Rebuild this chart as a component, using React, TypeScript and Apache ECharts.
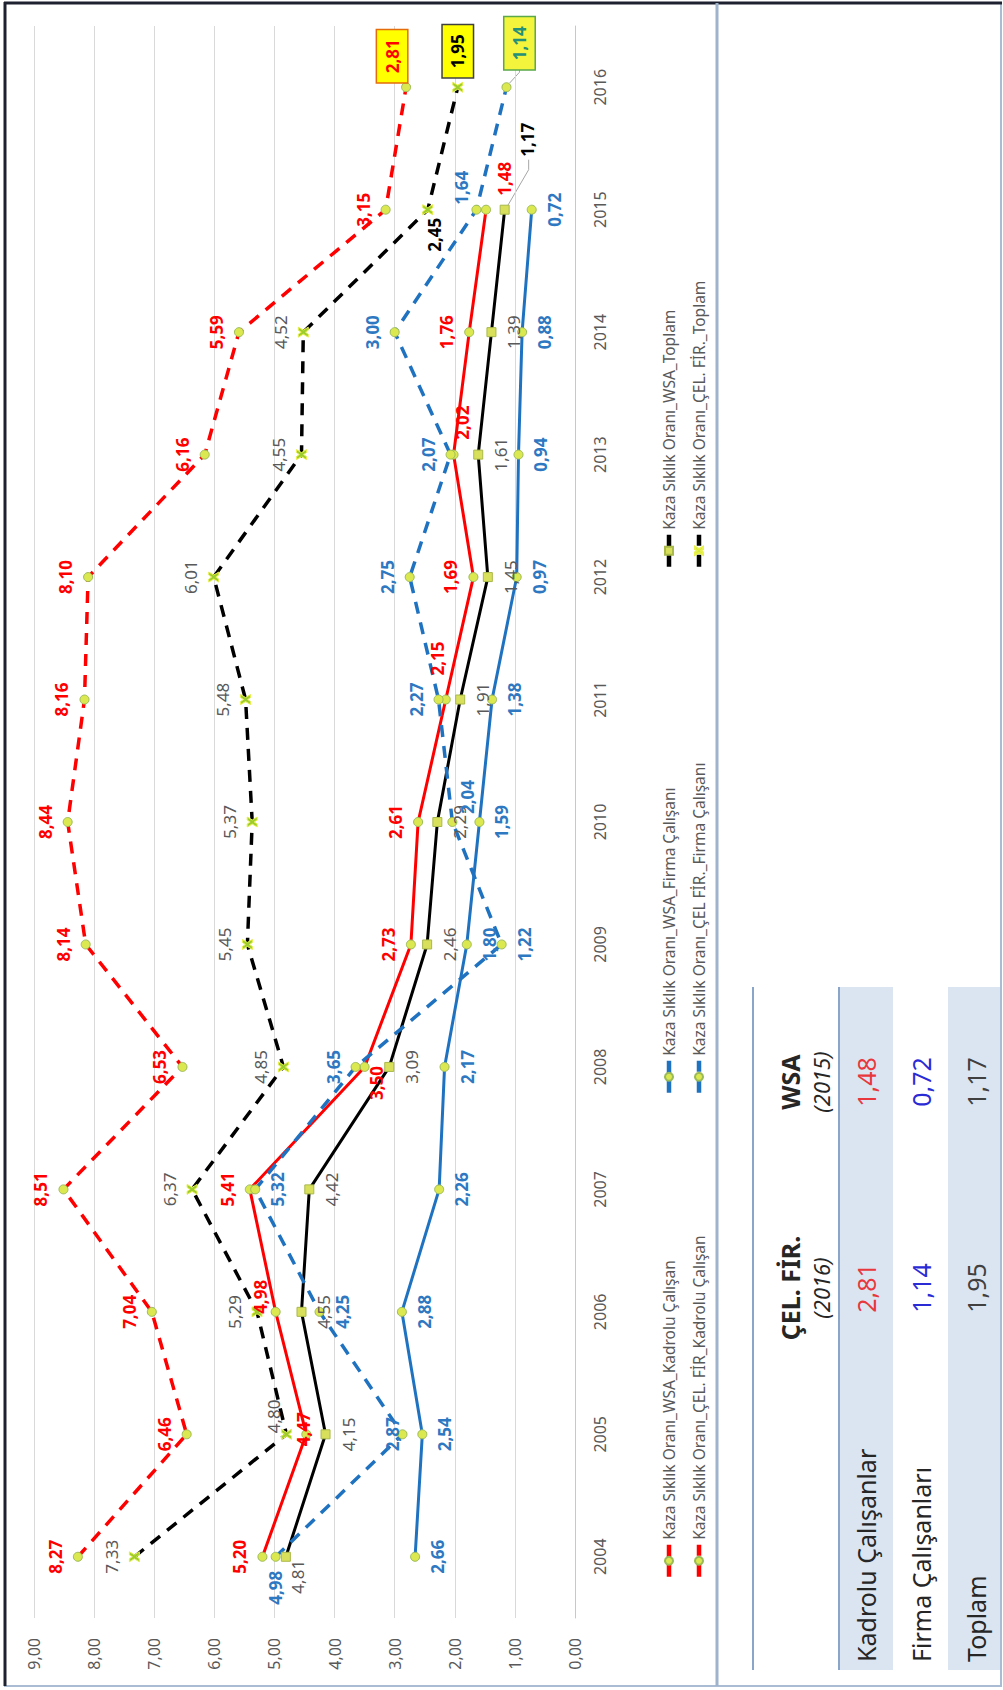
import React, { useEffect, useRef } from "react";
import * as echarts from "echarts";

// ---------- data ----------
const years = ["2004", "2005", "2006", "2007", "2008", "2009", "2010", "2011", "2012", "2013", "2014", "2015", "2016"];

const wsaKadrolu = [5.2, 4.47, 4.98, 5.41, 3.5, 2.73, 2.61, 2.15, 1.69, 2.02, 1.76, 1.48, null];
const wsaFirma = [2.66, 2.54, 2.88, 2.26, 2.17, 1.8, 1.59, 1.38, 0.97, 0.94, 0.88, 0.72, null];
const wsaToplam = [4.81, 4.15, 4.55, 4.42, 3.09, 2.46, 2.29, 1.91, 1.45, 1.61, 1.39, 1.17, null];
const celKadrolu = [8.27, 6.46, 7.04, 8.51, 6.53, 8.14, 8.44, 8.16, 8.1, 6.16, 5.59, 3.15, 2.81];
const celFirma = [4.98, 2.87, 4.25, 5.32, 3.65, 1.22, 2.04, 2.27, 2.75, 2.07, 3.0, 1.64, 1.14];
const celToplam = [7.33, 4.8, 5.29, 6.37, 4.85, 5.45, 5.37, 5.48, 6.01, 4.55, 4.52, 2.45, 1.95];

const seriesNames = [
  "Kaza Sıklık Oranı_WSA_Kadrolu Çalışan",
  "Kaza Sıklık Oranı_WSA_Firma Çalışanı",
  "Kaza Sıklık Oranı_WSA_Toplam",
  "Kaza Sıklık Oranı_ÇEL. FİR_Kadrolu Çalışan",
  "Kaza Sıklık Oranı_ÇEL FİR._Firma Çalışanı",
  "Kaza Sıklık Oranı_ÇEL. FİR._Toplam",
];

const valueTicks = [0, 1, 2, 3, 4, 5, 6, 7, 8, 9];

const tableRowLabels = ["Kadrolu Çalışanlar", "Firma Çalışanları", "Toplam"];
const tableHeaders = ["ÇEL. FİR.", "WSA"];
const tableHeaderYears = ["(2016)", "(2015)"];
const tableCel2016 = [2.81, 1.14, 1.95];
const tableWsa2015 = [1.48, 0.72, 1.17];

// ---------- styles ----------
const FONT = "'Noto Sans', 'DejaVu Sans', sans-serif";
const RED = "#ff0000";
const BLUE = "#1f72c0";
const BLACK = "#000000";
const GRAY = "#595959";
const LBL_BLUE = "#2e78c2";

const fmt = (v: any) => (v == null || v === "-" ? "" : Number(v).toFixed(2).replace(".", ","));

const circleMarker = { symbol: "circle", symbolSize: 9, itemStyle: { color: "#dbe84f", borderColor: "#9bbb59", borderWidth: 1 } };
const rectMarker = { symbol: "rect", symbolSize: 9, itemStyle: { color: "#d8df5a", borderColor: "#a9b94a", borderWidth: 1 } };
const xMarker = {
  symbol: "path://M0 0H3L5 3L7 0H10L7 5L10 10H7L5 7L3 10H0L3 5Z",
  symbolSize: 10,
  itemStyle: { color: "#9ccc2e", borderColor: "#e8f04a", borderWidth: 1 },
};

const inside = (dx: number, dy: number, extra: any = {}) => ({ position: "inside", offset: [dx, dy], ...extra });
const boxLabel = (dx: number, dy: number, bg: string, border: string, color: string) => ({
  position: "inside",
  offset: [dx, dy],
  backgroundColor: bg,
  borderColor: border,
  borderWidth: 1.5,
  padding: [7, 9, 6, 9],
  color,
  fontWeight: "bold",
});

const overrides: Record<string, Record<number, any>> = {
  wsaKadrolu: {
    1: inside(5, -3),
    2: inside(15, -15),
    4: inside(-16, 12),
    7: inside(41, -8),
    9: inside(32, 9),
    11: inside(31, 18),
  },
  wsaFirma: {},
  wsaToplam: {
    0: inside(-20, 12),
    11: inside(70, 23, { color: BLACK, fontWeight: "bold" }),
  },
  celKadrolu: {
    12: boxLabel(31, -14, "#ffff00", "#e46c0a", RED),
  },
  celFirma: {
    0: inside(-31, 0),
    1: inside(0, -10),
    2: { position: "bottom" },
    3: { position: "bottom" },
    5: { position: "bottom" },
    6: inside(25, 15),
    11: inside(22, -15),
    12: boxLabel(44, 13, "#f4f43c", "#5aa84a", "#23907a"),
  },
  celToplam: {
    1: inside(18, -13),
    11: inside(-25, 7, { color: BLACK, fontWeight: "bold" }),
    12: boxLabel(36, 0, "#ffff00", "#404040", BLACK),
  },
};

const buildData = (vals: (number | null)[], ov: Record<number, any>) =>
  vals.map((v, i) => (ov[i] && v != null ? { value: v, label: ov[i] } : v));

function makeSeries(
  name: string,
  vals: (number | null)[],
  ov: Record<number, any>,
  color: string,
  dashed: boolean,
  marker: any,
  labelPos: string,
  labelColor: string,
  labelBold: boolean
) {
  return {
    name,
    type: "line",
    data: buildData(vals, ov),
    ...marker,
    showSymbol: true,
    lineStyle: { color, width: dashed ? 3.5 : 3, type: dashed ? [12, 9] : "solid" },
    label: {
      show: true,
      position: labelPos,
      distance: 9,
      color: labelColor,
      fontWeight: labelBold ? "bold" : "normal",
      fontSize: 17,
      fontFamily: FONT,
      formatter: (p: any) => fmt(p.value),
    },
    emphasis: { disabled: true },
  };
}

// layout of the (unrotated) drawing surface: 1690 x 1003
const W = 1690;
const H = 1003;

const legendLeft = [106, 590, 1116];
const legendTop = [656, 686];

export default function App() {
  const ref = useRef<HTMLDivElement>(null);

  useEffect(() => {
    if (!ref.current) return;
    const chart = echarts.init(ref.current, undefined, { renderer: "svg" });

    const series = [
      makeSeries(seriesNames[0], wsaKadrolu, overrides.wsaKadrolu, RED, false, circleMarker, "top", RED, true),
      makeSeries(seriesNames[1], wsaFirma, overrides.wsaFirma, BLUE, false, circleMarker, "bottom", LBL_BLUE, true),
      makeSeries(seriesNames[2], wsaToplam, overrides.wsaToplam, BLACK, false, rectMarker, "bottom", GRAY, false),
      makeSeries(seriesNames[3], celKadrolu, overrides.celKadrolu, RED, true, circleMarker, "top", RED, true),
      makeSeries(seriesNames[4], celFirma, overrides.celFirma, BLUE, true, circleMarker, "top", LBL_BLUE, true),
      makeSeries(seriesNames[5], celToplam, overrides.celToplam, BLACK, true, xMarker, "top", GRAY, false),
    ];

    const legends = seriesNames.map((n, i) => ({
      data: [n],
      left: legendLeft[i % 3],
      top: legendTop[Math.floor(i / 3)],
      itemWidth: 32,
      itemHeight: 10,
      itemGap: 5,
      selectedMode: false,
      lineStyle: { width: 4.5 },
      textStyle: { color: GRAY, fontSize: 15.5, fontFamily: FONT },
    }));

    const txt = (id: string, x: number, y: number, text: string, extra: any) => ({
      type: "text",
      id,
      x,
      y,
      silent: true,
      style: { text, fontFamily: FONT, fill: "#262626", fontSize: 24, align: "center", verticalAlign: "middle", ...extra },
    });

    const rowY = [866, 921, 976];
    const colX = [402, 608];

    const baseGraphics: any[] = [
      // frame
      { type: "rect", id: "frame", shape: { x: 4, y: 5, width: 1683, height: 996 }, style: { fill: "none", stroke: "#a9bcd4", lineWidth: 2 }, silent: true },
      { type: "line", id: "frameDark1", shape: { x1: 4, y1: 5, x2: 1688, y2: 5 }, style: { stroke: "#1e2130", lineWidth: 3 }, silent: true },
      { type: "line", id: "frameDark2", shape: { x1: 1687, y1: 4, x2: 1687, y2: 1002 }, style: { stroke: "#1e2130", lineWidth: 3 }, silent: true },
      { type: "line", id: "separator", shape: { x1: 4, y1: 717, x2: 1687, y2: 717 }, style: { stroke: "#9fb3cd", lineWidth: 3 }, silent: true },
      // table
      { type: "rect", id: "band1", shape: { x: 20, y: 839, width: 683, height: 54 }, style: { fill: "#dbe5f1" }, silent: true },
      { type: "rect", id: "band3", shape: { x: 20, y: 948, width: 683, height: 52 }, style: { fill: "#dbe5f1" }, silent: true },
      { type: "line", id: "rule1", shape: { x1: 20, y1: 753, x2: 703, y2: 753 }, style: { stroke: "#8ba5c8", lineWidth: 2 }, silent: true },
      { type: "line", id: "rule2", shape: { x1: 20, y1: 839, x2: 703, y2: 839 }, style: { stroke: "#8ba5c8", lineWidth: 2 }, silent: true },
      txt("h1", colX[0], 790, tableHeaders[0], { fontWeight: "bold", fontSize: 25 }),
      txt("h2", colX[1], 790, tableHeaders[1], { fontWeight: "bold", fontSize: 25 }),
      txt("hy1", colX[0], 821, tableHeaderYears[0], { fontStyle: "italic", fontSize: 22 }),
      txt("hy2", colX[1], 821, tableHeaderYears[1], { fontStyle: "italic", fontSize: 22 }),
      ...tableRowLabels.map((t, i) => txt("rl" + i, 28, rowY[i], t, { align: "left", fontSize: 25 })),
      ...tableCel2016.map((v, i) => txt("c1" + i, colX[0], rowY[i], fmt(v), { fontSize: 25, fill: i === 0 ? "#e8383d" : i === 1 ? "#2b2bd6" : "#404040" })),
      ...tableWsa2015.map((v, i) => txt("c2" + i, colX[1], rowY[i], fmt(v), { fontSize: 25, fill: i === 0 ? "#e8383d" : i === 1 ? "#2b2bd6" : "#404040" })),
    ];

    chart.setOption({
      animation: false,
      backgroundColor: "#ffffff",
      textStyle: { fontFamily: FONT },
      grid: { left: 72, top: 34, width: 1592, height: 541, containLabel: false },
      xAxis: {
        type: "category",
        data: years,
        boundaryGap: true,
        axisLine: { show: true, lineStyle: { color: "#c8c8c8", width: 1 } },
        axisTick: { show: false },
        axisLabel: { interval: 0, margin: 17, fontSize: 16, color: GRAY, fontFamily: FONT },
        splitLine: { show: false },
      },
      yAxis: {
        type: "value",
        min: valueTicks[0],
        max: valueTicks[valueTicks.length - 1],
        interval: 1,
        axisLine: { show: false },
        axisTick: { show: false },
        axisLabel: { margin: 20, fontSize: 16, color: GRAY, fontFamily: FONT, formatter: (v: number) => fmt(v) },
        splitLine: { lineStyle: { color: "#d9d9d9", width: 1 } },
      },
      legend: legends,
      tooltip: { show: false },
      series,
      graphic: { elements: baseGraphics },
    });

    // leader lines for displaced labels, anchored through the chart's own scales
    const a = chart.convertToPixel({ gridIndex: 0 } as any, [11, wsaToplam[11] as number]) as number[];
    const b = chart.convertToPixel({ gridIndex: 0 } as any, [12, celFirma[12]]) as number[];
    chart.setOption({
      graphic: {
        elements: [
          ...baseGraphics,
          {
            type: "polyline",
            id: "lead1",
            silent: true,
            shape: { points: [[a[0] + 4, a[1] + 3], [a[0] + 40, a[1] + 24], [a[0] + 50, a[1] + 24]] },
            style: { stroke: "#a6a6a6", lineWidth: 1, fill: "none" },
          },
          {
            type: "polyline",
            id: "lead2",
            silent: true,
            shape: { points: [[b[0] + 4, b[1] + 3], [b[0] + 15, b[1] + 13], [b[0] + 19, b[1] + 13]] },
            style: { stroke: "#a6a6a6", lineWidth: 1, fill: "none" },
          },
        ],
      },
    });

    return () => chart.dispose();
  }, []);

  return (
    <div style={{ position: "absolute", left: 0, top: 0, width: 1003, height: 1690, overflow: "hidden", background: "#fff" }}>
      <div
        ref={ref}
        style={{
          position: "absolute",
          left: 0,
          top: 0,
          width: W,
          height: H,
          transformOrigin: "0 0",
          transform: `translateY(${W}px) rotate(-90deg)`,
        }}
      />
    </div>
  );
}
